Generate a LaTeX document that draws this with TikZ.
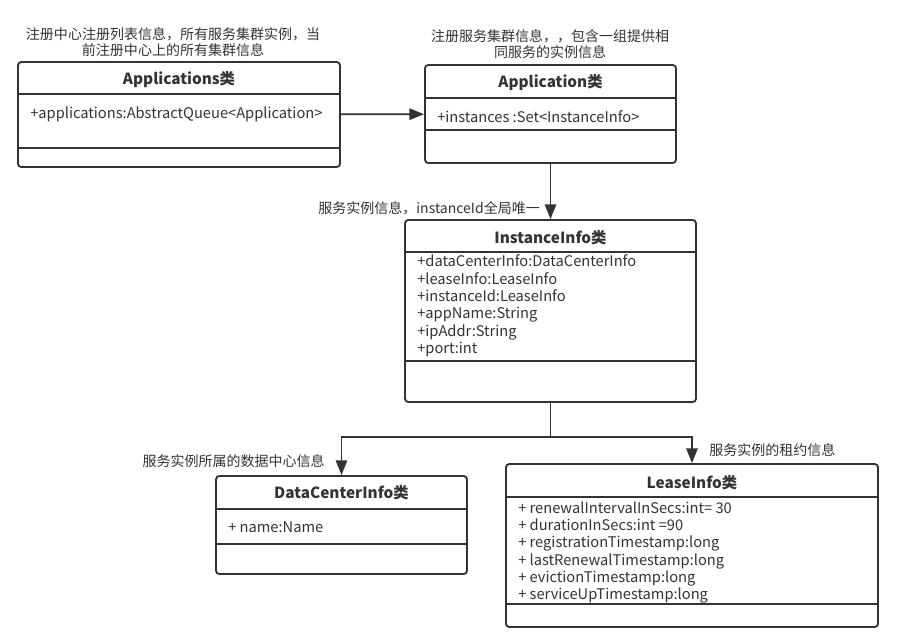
\documentclass[tikz,border=0pt]{standalone}
\usepackage{fontspec}
\setmainfont{Noto Sans CJK SC}
\usepackage{tikz}
\usetikzlibrary{arrows.meta}
\definecolor{umlgray}{HTML}{333333}

\begin{document}
\begin{tikzpicture}[
    x=0.75pt, y=-0.75pt,
    classbox/.style={rectangle, draw=umlgray, line width=1.4pt, rounded corners=2.5pt, inner sep=0pt},
    titlenode/.style={font=\fontsize{11.5}{13}\selectfont\bfseries, text=umlgray, inner sep=0pt},
    attrnode/.style={font=\fontsize{11}{13}\selectfont, text=umlgray, align=left, inner sep=0pt},
    notenode/.style={font=\fontsize{10.5}{12}\selectfont, text=umlgray, align=center, inner sep=0pt},
    divider/.style={draw=umlgray, line width=1.4pt},
    link/.style={draw=umlgray, line width=1.4pt, -{Triangle[width=8.5pt, length=11pt]}}
    ]
    \useasboundingbox (0,0) rectangle (899,637);

    %Boxes
    \node[classbox, minimum width=241.5pt, minimum height=78.75pt]  (apps_box)       at (179,114.5) {};
    \node[classbox, minimum width=188.25pt, minimum height=73.5pt]  (app_box)        at (550.5,114) {};
    \node[classbox, minimum width=218.25pt, minimum height=136.5pt] (instance_box)   at (550.5,311) {};
    \node[classbox, minimum width=188.25pt, minimum height=73.5pt]  (datacenter_box) at (341.5,525) {};
    \node[classbox, minimum width=279pt, minimum height=122.25pt]   (lease_box)      at (692,545.5) {};

    %Dividers
    \draw[divider] (apps_box.west |- 0,94) -- (apps_box.east |- 0,94);
    \draw[divider] (apps_box.west |- 0,148) -- (apps_box.east |- 0,148);
    \draw[divider] (app_box.west |- 0,98) -- (app_box.east |- 0,98);
    \draw[divider] (app_box.west |- 0,130) -- (app_box.east |- 0,130);
    \draw[divider] (instance_box.west |- 0,252) -- (instance_box.east |- 0,252);
    \draw[divider] (instance_box.west |- 0,361) -- (instance_box.east |- 0,361);
    \draw[divider] (datacenter_box.west |- 0,509) -- (datacenter_box.east |- 0,509);
    \draw[divider] (datacenter_box.west |- 0,544) -- (datacenter_box.east |- 0,544);
    \draw[divider] (lease_box.west |- 0,497) -- (lease_box.east |- 0,497);
    \draw[divider] (lease_box.west |- 0,604) -- (lease_box.east |- 0,604);

    %Titles
    \node[titlenode] (apps_title)       at (179,80)    {Applications类};
    \node[titlenode] (app_title)        at (550.5,83)  {Application类};
    \node[titlenode] (instance_title)   at (550.5,238) {InstanceInfo类};
    \node[titlenode] (datacenter_title) at (341.5,493) {DataCenterInfo类};
    \node[titlenode] (lease_title)      at (692,483)   {LeaseInfo类};

    %Attributes
    \node[attrnode, anchor=west] (apps_attr) at (30,114) {+applications:AbstractQueue<Application>};
    \node[attrnode, anchor=west] (app_attr)  at (437,117) {+instances :Set<InstanceInfo>};
    \node[attrnode, anchor=west] (instance_attr) at (417,306) {+dataCenterInfo:DataCenterInfo\\+leaseInfo:LeaseInfo\\+instanceId:LeaseInfo\\+appName:String\\+ipAddr:String\\+port:int};
    \node[attrnode, anchor=west] (datacenter_attr) at (228,527) {+ name:Name};
    \node[attrnode, anchor=west] (lease_attr) at (518,552.5) {+ renewalIntervalInSecs:int= 30\\+ durationInSecs:int =90\\+ registrationTimestamp:long\\+ lastRenewalTimestamp:long\\+ evictionTimestamp:long\\+ serviceUpTimestamp:long};

    %Notes
    \node[notenode] (apps_note) at (173,42) {注册中心注册列表信息，所有服务集群实例，当\\前注册中心上的所有集群信息};
    \node[notenode] (app_note)  at (550,44) {注册服务集群信息，，包含一组提供相\\同服务的实例信息};
    \node[notenode, anchor=east] (instance_note)   at (540,208) {服务实例信息，instanceId全局唯一};
    \node[notenode, anchor=east] (datacenter_note) at (325,461) {服务实例所属的数据中心信息};
    \node[notenode, anchor=west] (lease_note)      at (709,450) {服务实例的租约信息};

    %Lines
    \coordinate (split) at (550.5,437);
    \draw[link] (apps_box) -- (app_box);
    \draw[link] (app_box) -- (instance_box);
    \draw[divider] (instance_box) -- (split);
    \draw[link] (split) -| (datacenter_box);
    \draw[link] (split) -| (lease_box);

\end{tikzpicture}
\end{document}
